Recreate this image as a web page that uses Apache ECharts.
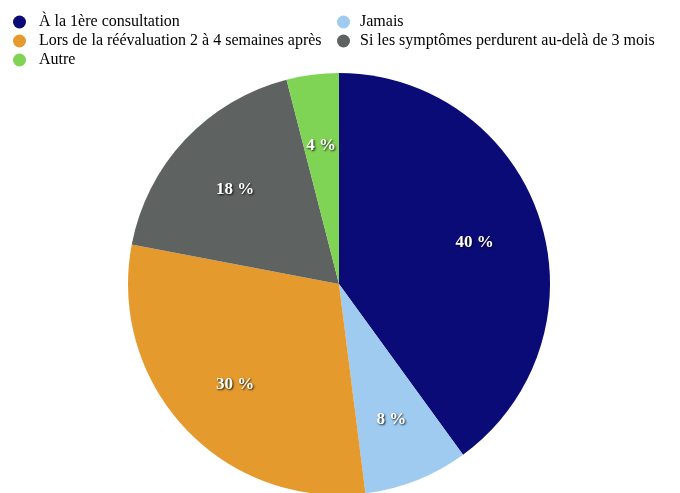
<!DOCTYPE html>
<html><head><meta charset="utf-8">
<script src="https://cdn.jsdelivr.net/npm/echarts@6/dist/echarts.min.js"></script>
<style>html,body{margin:0;padding:0;background:#fff}#c{width:680px;height:493px}</style>
</head><body><div id="c"></div>
<script>
const categories = ["À la 1ère consultation", "Jamais", "Lors de la réévaluation 2 à 4 semaines après", "Si les symptômes perdurent au-delà de 3 mois", "Autre"];
const values = [40, 8, 30, 18, 4];
const colors = ["#0b0b78", "#9ecbef", "#e59a2d", "#5e6260", "#7fd455"];

const data = categories.map((n, i) => ({ name: n, value: values[i], itemStyle: { color: colors[i] } }));
const R = 211;
const chart = echarts.init(document.getElementById('c'));
function legendText(pad) {
  return { fontFamily: 'Liberation Serif', fontSize: 16, lineHeight: 18, color: '#000', padding: [0, 0, 0, pad] };
}
chart.setOption({
  animation: false,
  legend: [
    { data: [categories[0], categories[2], categories[4]], orient: 'vertical', left: 13, top: 13, padding: 0,
      icon: 'circle', itemWidth: 13, itemHeight: 13, itemGap: 1, textStyle: legendText(8), selectedMode: false },
    { data: [categories[1], categories[3]], orient: 'vertical', left: 337, top: 13, padding: 0,
      icon: 'circle', itemWidth: 13, itemHeight: 13, itemGap: 1, textStyle: legendText(5), selectedMode: false }
  ],
  series: [
    { type: 'pie', center: [339, 284], radius: [0, R], startAngle: 90, data: data,
      label: { show: false }, labelLine: { show: false }, itemStyle: { borderWidth: 0 }, silent: true },
    { type: 'pie', center: [339, 287], radius: [Math.round(R * 0.32), R], startAngle: 90,
      data: data.map(d => ({ name: d.name, value: d.value, itemStyle: { color: 'rgba(0,0,0,0)' } })),
      silent: true, labelLine: { show: false },
      label: { show: true, position: 'inside', formatter: '{c} %', fontFamily: 'Liberation Serif',
        fontWeight: 'bold', fontSize: 17, color: '#fff',
        textShadowColor: 'rgba(0,0,0,0.85)', textShadowBlur: 2, textShadowOffsetX: 1, textShadowOffsetY: 1 } }
  ]
});
</script></body></html>
